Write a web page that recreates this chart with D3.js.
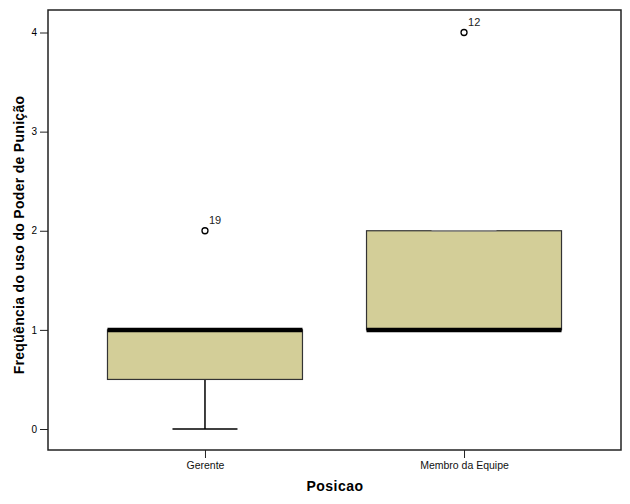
<!DOCTYPE html>
<html><head><meta charset="utf-8">
<script src="https://cdn.jsdelivr.net/npm/d3@7"></script>
<style>body{margin:0;background:#fff}</style>
</head><body>
<svg id="c" width="630" height="504"></svg>
<script>
const categories = ["Gerente", "Membro da Equipe"];
const lowerWhisker = [0, 1];
const q1 = [0.5, 1];
const median = [1, 1];
const q3 = [1, 2];
const upperWhisker = [1, 2];
const outlierValues = [2, 4];
const outlierLabels = ["19", "12"];
const yTicks = [0, 1, 2, 3, 4];

const svg = d3.select("#c");
const L = 48, R = 621, T = 10, B = 450;
const x = d3.scalePoint().domain(categories).range([L, R]).padding(0.606);
const y = d3.scaleLinear().domain([0, 4]).range([429, 32.5]);
const boxW = 195, capW = 65;
const font = "Arial, 'Liberation Sans', sans-serif";

const g = svg.append("g");
categories.forEach((c, i) => {
  const cx = x(c);
  g.append("line").attr("x1", cx).attr("x2", cx).attr("y1", y(lowerWhisker[i])).attr("y2", y(q1[i]))
    .attr("stroke", "#000").attr("stroke-width", 1.5);
  g.append("line").attr("x1", cx).attr("x2", cx).attr("y1", y(upperWhisker[i])).attr("y2", y(q3[i]))
    .attr("stroke", "#000").attr("stroke-width", 1.5);
  g.append("rect").attr("x", cx - boxW / 2).attr("width", boxW)
    .attr("y", y(q3[i])).attr("height", y(q1[i]) - y(q3[i]))
    .attr("fill", "#d3ce98").attr("stroke", "#333").attr("stroke-width", 1.2);
  [lowerWhisker[i], upperWhisker[i]].forEach(v => {
    g.append("line").attr("x1", cx - capW / 2).attr("x2", cx + capW / 2).attr("y1", y(v)).attr("y2", y(v))
      .attr("stroke", (v === q1[i] || v === q3[i]) ? "#888" : "#000").attr("stroke-width", 1.5);
  });
  g.append("line").attr("x1", cx - boxW / 2).attr("x2", cx + boxW / 2).attr("y1", y(median[i])).attr("y2", y(median[i]))
    .attr("stroke", "#000").attr("stroke-width", 4.5);
  g.append("circle").attr("cx", cx).attr("cy", y(outlierValues[i])).attr("r", 3)
    .attr("fill", "none").attr("stroke", "#000").attr("stroke-width", 1.3);
  g.append("text").attr("x", cx + 4).attr("y", y(outlierValues[i]) - 7)
    .attr("font-family", font).attr("font-size", 11).attr("fill", "#222").text(outlierLabels[i]);
});

svg.append("rect").attr("x", L).attr("y", T).attr("width", R - L).attr("height", B - T)
  .attr("fill", "none").attr("stroke", "#222").attr("stroke-width", 1.5);

const ya = svg.append("g").attr("transform", `translate(${L},0)`)
  .call(d3.axisLeft(y).tickValues(yTicks).tickFormat(d3.format("d")).tickSize(8).tickPadding(3));
ya.select(".domain").remove();
ya.selectAll("line").attr("stroke", "#222");
ya.selectAll("text").attr("font-family", font).attr("font-size", 10).attr("fill", "#000");

const xa = svg.append("g").attr("transform", `translate(0,${B})`)
  .call(d3.axisBottom(x).tickSize(8).tickPadding(4));
xa.select(".domain").remove();
xa.selectAll("line").attr("stroke", "#222");
xa.selectAll("text").attr("font-family", font).attr("font-size", 10.5).attr("fill", "#111");

svg.append("text").attr("x", 335).attr("y", 491).attr("text-anchor", "middle")
  .attr("font-family", font).attr("font-weight", "bold").attr("font-size", 14).attr("fill", "#000")
  .attr("letter-spacing", 0.5)
  .text("Posicao");
svg.append("text").attr("transform", "translate(24,235) rotate(-90)").attr("text-anchor", "middle")
  .attr("font-family", font).attr("font-weight", "bold").attr("font-size", 14).attr("fill", "#000")
  .attr("letter-spacing", 0.3)
  .text("Freqüência do uso do Poder de Punição");
</script>
</body></html>
